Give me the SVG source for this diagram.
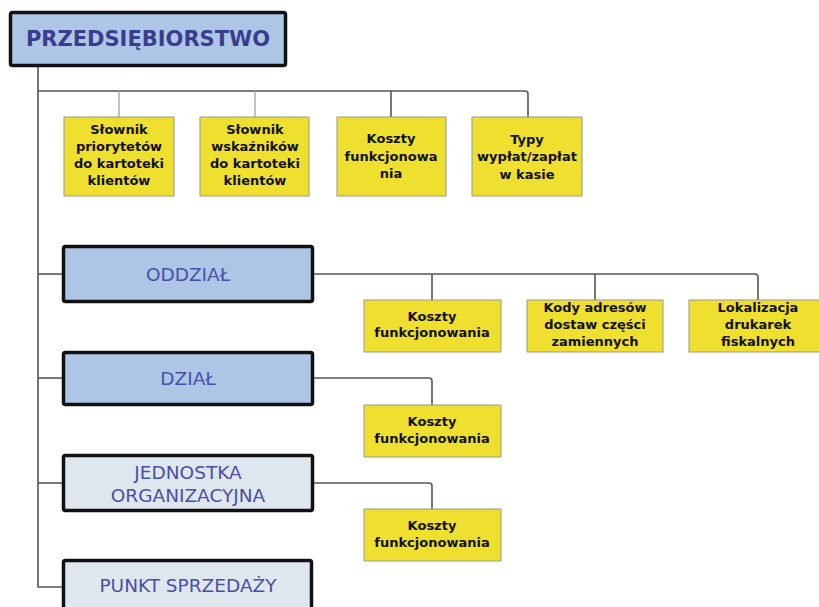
<svg xmlns="http://www.w3.org/2000/svg" width="819" height="607" viewBox="0 0 819 607">
<style>
.main{stroke:#111;stroke-width:3.5;}
.blue{fill:#adc6e6;}
.light{fill:#dfe7ee;}
.t1{font-family:"DejaVu Sans",Verdana,sans-serif;font-size:18.5px;fill:#4a4fa6;text-anchor:middle;}
.title{font-family:"DejaVu Sans",Verdana,sans-serif;font-size:21px;font-weight:bold;fill:#3a3d8f;text-anchor:middle;}
.y{fill:#efdf2e;stroke:#9a9a8a;stroke-width:1;}
.ty{font-family:"DejaVu Sans",Verdana,sans-serif;font-size:13px;font-weight:bold;fill:#111;text-anchor:middle;}
.ln{fill:none;stroke:#555;stroke-width:1.6;}
.ll{fill:none;stroke:#aaa;stroke-width:1.4;}
</style>
<rect width="819" height="607" fill="#ffffff"/>
<g id="connectors">
<path class="ln" d="M38 66 V587 H63"/>
<path class="ln" d="M38 91 H525 Q528 91 528 94 V117"/>
<path class="ll" d="M119 91 V117"/>
<path class="ll" d="M255 91 V117"/>
<path class="ln" d="M391 91 V117"/>
<path class="ln" d="M38 274 H63"/>
<path class="ln" d="M38 378 H63"/>
<path class="ln" d="M38 483 H63"/>
<path class="ln" d="M313 274 H755 Q758 274 758 277 V300"/>
<path class="ln" d="M432 274 V300"/>
<path class="ln" d="M595 274 V300"/>
<path class="ln" d="M313 378 H429 Q432 378 432 381 V405"/>
<path class="ln" d="M313 483 H429 Q432 483 432 486 V509"/>
</g>
<g id="przedsiebiorstwo">
<rect class="main blue" x="10.5" y="12.5" width="275" height="53" rx="2"/>
<text class="title" x="148" y="46">PRZEDSIĘBIORSTWO</text>
</g>
<g id="slownik-priorytetow">
<rect class="y" x="64" y="117" width="110" height="79"/>
<text class="ty" x="119" y="134">Słownik</text>
<text class="ty" x="119" y="151">priorytetów</text>
<text class="ty" x="119" y="168">do kartoteki</text>
<text class="ty" x="119" y="185">klientów</text>
</g>
<g id="slownik-wskaznikow">
<rect class="y" x="200" y="117" width="109" height="79"/>
<text class="ty" x="255" y="134">Słownik</text>
<text class="ty" x="255" y="151">wskaźników</text>
<text class="ty" x="255" y="168">do kartoteki</text>
<text class="ty" x="255" y="185">klientów</text>
</g>
<g id="koszty-top">
<rect class="y" x="337" y="117" width="109" height="79"/>
<text class="ty" x="391" y="143">Koszty</text>
<text class="ty" x="391" y="161">funkcjonowa</text>
<text class="ty" x="391" y="178">nia</text>
</g>
<g id="typy-wyplat">
<rect class="y" x="472" y="117" width="110" height="79"/>
<text class="ty" x="527" y="144">Typy</text>
<text class="ty" x="527" y="161">wypłat/zapłat</text>
<text class="ty" x="527" y="179">w kasie</text>
</g>
<g id="oddzial">
<rect class="main blue" x="63.5" y="246.5" width="249" height="55" rx="2"/>
<text class="t1" x="188" y="281">ODDZIAŁ</text>
</g>
<g id="oddzial-koszty">
<rect class="y" x="364" y="300" width="137" height="52"/>
<text class="ty" x="432" y="321">Koszty</text>
<text class="ty" x="432" y="337">funkcjonowania</text>
</g>
<g id="kody-adresow">
<rect class="y" x="527" y="300" width="136" height="52"/>
<text class="ty" x="595" y="312">Kody adresów</text>
<text class="ty" x="595" y="329">dostaw części</text>
<text class="ty" x="595" y="346">zamiennych</text>
</g>
<g id="lokalizacja">
<rect class="y" x="689" y="300" width="137" height="52"/>
<text class="ty" x="758" y="312">Lokalizacja</text>
<text class="ty" x="758" y="329">drukarek</text>
<text class="ty" x="758" y="346">fiskalnych</text>
</g>
<g id="dzial">
<rect class="main blue" x="63.5" y="352.5" width="249" height="52" rx="2"/>
<text class="t1" x="188" y="385">DZIAŁ</text>
</g>
<g id="dzial-koszty">
<rect class="y" x="364" y="405" width="137" height="52"/>
<text class="ty" x="432" y="426">Koszty</text>
<text class="ty" x="432" y="443">funkcjonowania</text>
</g>
<g id="jednostka">
<rect class="main light" x="63.5" y="455.5" width="249" height="55" rx="2"/>
<text class="t1" x="188" y="479">JEDNOSTKA</text>
<text class="t1" x="188" y="502">ORGANIZACYJNA</text>
</g>
<g id="jednostka-koszty">
<rect class="y" x="364" y="509" width="137" height="52"/>
<text class="ty" x="432" y="530">Koszty</text>
<text class="ty" x="432" y="547">funkcjonowania</text>
</g>
<g id="punkt-sprzedazy">
<rect class="main light" x="63.5" y="560.5" width="248" height="60" rx="2"/>
<text class="t1" x="188" y="592">PUNKT SPRZEDAŻY</text>
</g>
</svg>
